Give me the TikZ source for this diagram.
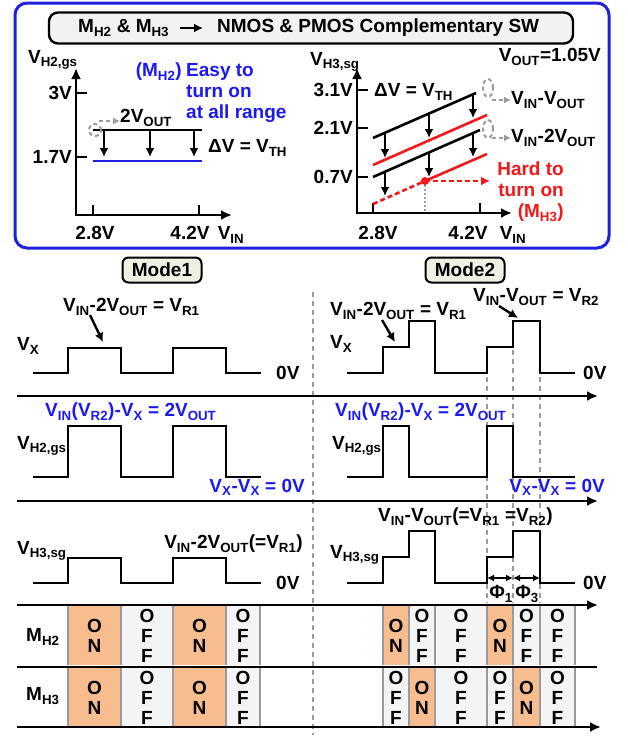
\documentclass[tikz,border=0pt]{standalone}
\usepackage{fontspec}
\setmainfont{Liberation Sans}
\usetikzlibrary{arrows.meta,positioning,calc}
\definecolor{edgeblue}{HTML}{1F1FE0}
\definecolor{txtblue}{HTML}{1A1AF0}
\definecolor{hot}{HTML}{F01818}
\definecolor{onfill}{HTML}{F8BD8F}
\definecolor{offfill}{HTML}{F4F4F4}
\definecolor{gr}{HTML}{9A9A9A}
\definecolor{modefill}{HTML}{EFF0E4}
\definecolor{capfill}{HTML}{F2F2F2}
\newcommand{\sbs}[1]{\textsubscript{#1}}
\newcommand{\lb}{\fontsize{19}{21}\selectfont\bfseries}

\begin{document}
\begin{tikzpicture}[>={Latex[length=11pt,width=10pt]},x=1pt,y=-1pt,
  every node/.style={font=\lb,inner sep=0pt},
  wave/.style={line width=2.6pt},
  ax/.style={->,line width=2.6pt},
  tick/.style={line width=2.6pt},
  guide/.style={gr,line width=2pt,dash pattern=on 5pt off 4pt},
  ghost/.style={gr,line width=2pt,dash pattern=on 4pt off 3pt},
  dn/.style={->,line width=2.4pt,>={Latex[length=9pt,width=9pt]}},
  modebox/.style={draw,line width=2pt,rounded corners=6pt,fill=modefill,minimum width=79pt,minimum height=25pt},
  cell/.style={align=center,font=\fontsize{19}{20}\selectfont\bfseries}]
\useasboundingbox (0,0) rectangle (627,736);

% ---- top panel ----
\draw[edgeblue,line width=3pt,rounded corners=12pt] (15,3) rectangle (609,248);
\node[draw,line width=2.4pt,rounded corners=9pt,fill=capfill,minimum width=524pt,minimum height=31pt] (cap) at (311,28) {};
\node[anchor=west] (capl) at (78,28) {M\sbs{H2} \& M\sbs{H3}};
\node[anchor=west] (capr) at (217,28) {NMOS \& PMOS Complementary SW};
\draw[->,line width=2.4pt,shorten <=11pt,shorten >=14pt,>={Latex[length=9pt,width=9pt]}] (capl.east) -- (capl.east -| capr.west);

% left plot: VH2,gs
\draw[ax,<->] (76,68) |- (232,215);
\foreach \y/\t in {93/3V,157/1.7V}{
  \draw[tick] (76,\y) -- (87,\y);
  \node[anchor=east] at (72,\y) {\t};}
\draw[tick] (93,215) -- (93,205);
\draw[tick] (199,215) -- (199,205);
\node (l28) at (95,233) {2.8V};
\node (l42) at (190,233) {4.2V};
\node (lvin) at (231,235) {V\sbs{IN}};
\node[anchor=west] (lyl) at (28,60) {V\sbs{H2,gs}};
\draw[line width=2.6pt] (93,130) -- (202,130);
\draw[edgeblue,line width=2.6pt] (93,161) -- (202,161);
\foreach \x in {104,150,194} \draw[dn] (\x,131) -- (\x,157);
\node[anchor=west] (ldv) at (208,148) {ΔV = V\sbs{TH}};
\draw[ghost] (95,130) circle (6pt);
\coordinate (lg) at (99,121);
\node[anchor=west] (l2v) at (120,118) {2V\sbs{OUT}};
\draw[ghost,->,>={Latex[length=7pt,width=7pt]}] (lg) -- (l2v.west |- lg);
\node[anchor=east,text=txtblue] (lmh2) at (182,72) {(M\sbs{H2})};
\node[anchor=north west,align=left,text=txtblue] (leasy) at (186,63) {Easy to\\turn on\\at all range};

% right plot: VH3,sg
\draw[ax,<->] (357,68) |- (512,213);
\foreach \y/\t in {90/3.1V,128/2.1V,177/0.7V}{
  \draw[tick] (357,\y) -- (368,\y);
  \node[anchor=east] at (353,\y) {\t};}
\draw[tick] (373,213) -- (373,203);
\draw[tick] (480,213) -- (480,203);
\node (r28) at (378,233) {2.8V};
\node (r42) at (468,233) {4.2V};
\node (rvin) at (513,235) {V\sbs{IN}};
\node[anchor=west] (ryl) at (310,62) {V\sbs{H3,sg}};
\node[anchor=east] (vout) at (601,57) {V\sbs{OUT}=1.05V};
\draw[line width=2.6pt] (373,138) -- (476,93);
\draw[hot,line width=2.6pt] (373,165) -- (487,115);
\draw[line width=2.6pt] (373,177) -- (480,130);
\coordinate (rdot) at (425,181);
\draw[hot,line width=2.6pt,dash pattern=on 5pt off 3pt] (373,204) -- (rdot);
\draw[hot,line width=2.6pt] (rdot) -- (487,154);
\draw[gr,line width=1.5pt,dash pattern=on 2pt off 2pt] (rdot) -- (425,213);
\fill[hot] (rdot) circle (4pt);
\foreach \x/\a/\b in {385/134/158, 385/173/196, 429/114/138, 429/153/177, 473/95/118, 473/134/157}
  \draw[dn] (\x,\a) -- (\x,\b);
\node[anchor=west] (rdv) at (374,92) {ΔV = V\sbs{TH}};
\draw[ghost] (488,88) ellipse [x radius=5pt,y radius=9pt];
\draw[ghost] (488,129) ellipse [x radius=5pt,y radius=9pt];
\coordinate (rg1) at (492,100);
\coordinate (rg2) at (492,138);
\node[anchor=west] (rv1) at (511,100) {V\sbs{IN}-V\sbs{OUT}};
\node[anchor=west] (rv2) at (511,138) {V\sbs{IN}-2V\sbs{OUT}};
\draw[ghost,->,>={Latex[length=7pt,width=7pt]}] (rg1) -- (rv1.west |- rg1);
\draw[ghost,->,>={Latex[length=7pt,width=7pt]}] (rg2) -- (rv2.west |- rg2);
\node[anchor=north east,align=right,text=hot] (rhard) at (564,162) {Hard to\\turn on\\(M\sbs{H3})};
\coordinate (rend) at (490,181);
\draw[hot,line width=2.6pt,dash pattern=on 5pt off 3pt,->,>={Latex[length=9pt,width=9pt]}] (rdot) -- (rend);

% ---- mode tags and divider ----
\node[modebox] (m1) at (162,270) {Mode1};
\node[modebox] (m2) at (465,270) {Mode2};
\draw[guide] (313,292) -- (313,735);

% ---- waveforms, mode 1 ----
\draw[wave] (33,373) -- (68,373) -- (68,348) -- (121,348) -- (121,373) -- (173,373) -- (173,348) -- (226,348) -- (226,373) -- (261,373);
\draw[wave] (33,477) -- (68,477) -- (68,426) -- (121,426) -- (121,477) -- (173,477) -- (173,426) -- (226,426) -- (226,477) -- (261,477);
\draw[wave] (33,583) -- (68,583) -- (68,558) -- (121,558) -- (121,583) -- (173,583) -- (173,558) -- (226,558) -- (226,583) -- (261,583);
\node[anchor=west] (vx1) at (17,346) {V\sbs{X}};
\node[anchor=west] (vr1a) at (63,307) {V\sbs{IN}-2V\sbs{OUT} = V\sbs{R1}};
\coordinate (p1) at (103,342);
\draw[dn] (90,315) -- (p1);
\node[anchor=west] (z1a) at (276,373) {0V};
\node[anchor=west,text=txtblue] (bl1) at (45,412) {V\sbs{IN}(V\sbs{R2})-V\sbs{X} = 2V\sbs{OUT}};
\node[anchor=west] (vh21) at (17,446) {V\sbs{H2,gs}};
\node[anchor=east,text=txtblue] (bz1) at (305,487) {V\sbs{X}-V\sbs{X} = 0V};
\node[anchor=west] (vh31) at (17,551) {V\sbs{H3,sg}};
\node[anchor=east] (vr1b) at (303,544) {V\sbs{IN}-2V\sbs{OUT}(=V\sbs{R1})};
\node[anchor=west] (z1b) at (276,583) {0V};

% ---- waveforms, mode 2 ----
\foreach \x/\a in {487/377,513/350,540/377} \draw[guide] (\x,\a) -- (\x,603);
\draw[wave] (347,373) -- (383,373) -- (383,347) -- (409,347) -- (409,321) -- (435,321) -- (435,373) -- (487,373) -- (487,347) -- (513,347) -- (513,321) -- (540,321) -- (540,373) -- (575,373);
\draw[wave] (347,477) -- (383,477) -- (383,426) -- (409,426) -- (409,477) -- (487,477) -- (487,426) -- (513,426) -- (513,477) -- (575,477);
\draw[wave] (347,583) -- (383,583) -- (383,557) -- (409,557) -- (409,531) -- (435,531) -- (435,583) -- (487,583) -- (487,557) -- (513,557) -- (513,531) -- (540,531) -- (540,583) -- (575,583);
\node[anchor=west] (vx2) at (330,344) {V\sbs{X}};
\node[anchor=west] (vr2a) at (330,311) {V\sbs{IN}-2V\sbs{OUT} = V\sbs{R1}};
\coordinate (p2) at (395,342);
\draw[dn] (382,320) -- (p2);
\node[anchor=west] (vr2b) at (473,297) {V\sbs{IN}-V\sbs{OUT} = V\sbs{R2}};
\coordinate (p3) at (518,318);
\draw[dn] (499,306) -- (p3);
\node[anchor=west] (z2a) at (583,373) {0V};
\node[anchor=west,text=txtblue] (bl2) at (335,412) {V\sbs{IN}(V\sbs{R2})-V\sbs{X} = 2V\sbs{OUT}};
\node[anchor=west] (vh22) at (332,446) {V\sbs{H2,gs}};
\node[anchor=east,text=txtblue] (bz2) at (605,487) {V\sbs{X}-V\sbs{X} = 0V};
\node[anchor=west] (vh32) at (330,555) {V\sbs{H3,sg}};
\node[anchor=west] (vr2c) at (378,517) {V\sbs{IN}-V\sbs{OUT}(=V\sbs{R1} =V\sbs{R2})};
\node[anchor=west] (z2b) at (583,583) {0V};
\coordinate (f0) at (487,578);
\coordinate (f1) at (513,578);
\coordinate (f2) at (540,578);
\draw[<->,line width=1.8pt,>={Latex[length=7pt,width=7pt]}] (f0) -- (f1);
\draw[<->,line width=1.8pt,>={Latex[length=7pt,width=7pt]}] (f1) -- (f2);
\node (phi1) at (501,594) {Φ\sbs{1}};
\node (phi3) at (527,594) {Φ\sbs{3}};

% ---- switch states ----
\foreach \a/\b/\t [count=\i] in {68/121/605,173/226/605,68/121/667,173/226/667,383/409/605,487/513/605,409/435/667,513/540/667}{
  \fill[onfill] (\a,\t) rectangle (\b,\t+60);
  \draw[gr,line width=2.2pt] (\a,\t) -- (\a,\t+60) (\b,\t) -- (\b,\t+60);
  \node[cell] (on\i) at ({(\a+\b)/2},\t+31) {O\\N};}
\foreach \a/\b/\t [count=\i] in {121/173/605,226/260/605,121/173/667,226/260/667,409/435/605,435/487/605,513/540/605,540/575/605,383/409/667,435/487/667,487/513/667,540/575/667}{
  \fill[offfill] (\a,\t) rectangle (\b,\t+60);
  \draw[gr,line width=2.2pt] (\a,\t) -- (\a,\t+60) (\b,\t) -- (\b,\t+60);
  \node[cell] (off\i) at ({(\a+\b)/2},\t+31) {O\\F\\F};}
\node[anchor=west] (mh2) at (26,637) {M\sbs{H2}};
\node[anchor=west] (mh3) at (26,696) {M\sbs{H3}};

% ---- time axes ----
\draw[ax] (17,396) -- (598,396);
\draw[ax] (17,501) -- (598,501);
\draw[ax] (17,605) -- (598,605);
\draw[line width=2.6pt] (17,667) -- (597,667);
\draw[ax] (17,727) -- (601,727);
\end{tikzpicture}
\end{document}
